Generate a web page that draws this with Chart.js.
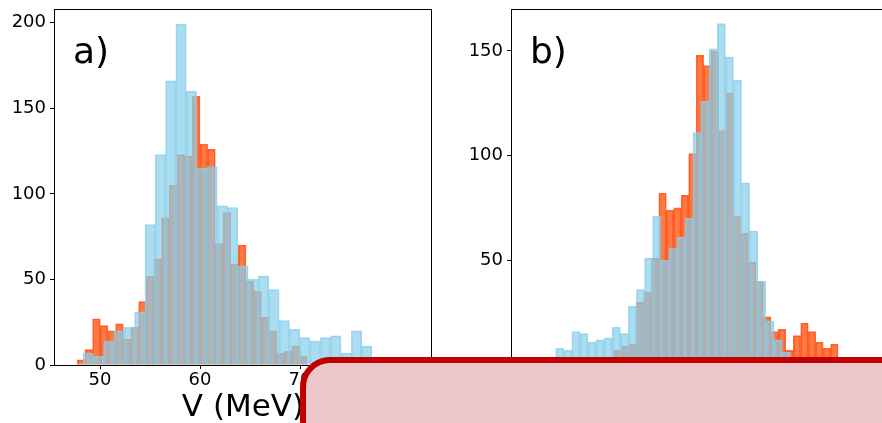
<!DOCTYPE html>
<html>
<head>
<meta charset="utf-8">
<script src="https://cdn.jsdelivr.net/npm/chart.js@4/dist/chart.umd.min.js"></script>
<style>
  html, body { margin: 0; padding: 0; background: #fff; }
  #stage { position: relative; width: 882px; height: 423px; overflow: hidden; background: #fff; }
  #cA { position: absolute; left: 0; top: 0; }
  #cB { position: absolute; left: 441px; top: 0; }
  #note {
    position: absolute; left: 300px; top: 357px; width: 640px; height: 130px;
    box-sizing: border-box; border: 6px solid #c00000; border-radius: 30px; background: #ecc8cc;
  }
</style>
</head>
<body>
<div id="stage">
  <canvas id="cA" width="441" height="423"></canvas>
  <canvas id="cB" width="460" height="423"></canvas>
  <div id="note"></div>
</div>
<script>
// ---- histogram data (counts per bin, bin range [lo, hi]) ----
const axisLabel = 'V (MeV)';
const vRange = [45.4, 83.2];
const xTickStep = 10;
const yTickStep = 50;

// panel a)
const aBlueRange = [48.3, 77.2];
const aBlueCounts = [7, 5, 14, 20, 22, 31, 82, 123, 166, 199, 160, 115, 116, 93,
                     92, 58, 50, 52, 44, 26, 21, 16, 14, 16, 17, 7, 20, 11];
const aOrangeRange = [47.73, 70.73];
const aOrangeCounts = [3, 9, 27, 23, 20, 24, 15, 22, 37, 52, 62, 86, 105, 123, 122,
                       157, 129, 126, 71, 89, 59, 70, 49, 43, 28, 20, 7, 8, 11, 5];
const aYMax = 208;

// panel b)
const bBlueRange = [49.87, 73.30];
const bBlueCounts = [8, 7, 16, 15, 11, 12, 13, 18, 15, 28, 36, 51, 71, 50, 56,
                     61, 70, 111, 126, 151, 163, 147, 136, 87, 64, 40, 21, 12, 6];
const bOrangeRange = [55.7, 78.11];
const bOrangeCounts = [7, 9, 10, 30, 35, 51, 82, 74, 75, 81, 101, 148, 143, 150, 112,
                       130, 71, 63, 49, 40, 23, 16, 17, 7, 14, 20, 16, 11, 8, 10];
const bYMax = 170;

// ---- styling ----
const FONT = "'DejaVu Sans', sans-serif";
const BLUE = 'rgba(135, 206, 235, 0.7)';
const BLUE_EDGE = 'rgba(135, 206, 235, 0.8)';
const ORANGE = 'rgba(255, 69, 0, 0.72)';
const ORANGE_EDGE = 'rgba(255, 69, 0, 0.78)';

function binPoints(range, counts) {
  const [lo, hi] = range;
  const w = (hi - lo) / counts.length;
  return counts.map((c, i) => ({ x: lo + (i + 0.5) * w, y: c }));
}

// axes box drawn above the bars, like matplotlib spines
const framePlugin = {
  id: 'frame',
  afterDatasetsDraw(chart) {
    const { ctx, chartArea: a } = chart;
    ctx.save();
    ctx.strokeStyle = '#000';
    ctx.lineWidth = 1;
    const l = Math.round(a.left) + 0.5, r = Math.round(a.right) - 0.5;
    const t = Math.round(a.top) + 0.5, b = Math.round(a.bottom) + 0.5;
    ctx.strokeRect(l, t, r - l, b - t);
    ctx.restore();
  }
};

// panel letter in the upper-left corner of the axes
const tagPlugin = {
  id: 'tag',
  afterDraw(chart, args, opts) {
    const { ctx, chartArea: a } = chart;
    ctx.save();
    ctx.font = `36px ${FONT}`;
    ctx.fillStyle = '#000';
    ctx.textBaseline = 'alphabetic';
    ctx.textAlign = 'left';
    ctx.fillText(opts.text, a.left + 0.05 * (a.right - a.left), a.top + 0.152 * (a.bottom - a.top));
    ctx.restore();
  }
};

function tickGrid() {
  return { display: true, offset: false, drawOnChartArea: false, drawTicks: true, tickLength: 4, color: '#000', lineWidth: 1 };
}

function histChart(canvasId, p) {
  const barCommon = { grouped: false, barPercentage: 1, categoryPercentage: 1, borderWidth: 1, borderSkipped: 'bottom' };
  return new Chart(document.getElementById(canvasId), {
    type: 'bar',
    data: {
      datasets: [
        Object.assign({ label: 'blue', data: binPoints(p.blueRange, p.blueCounts), xAxisID: 'x',
          backgroundColor: BLUE, borderColor: BLUE_EDGE }, barCommon),
        Object.assign({ label: 'orange', data: binPoints(p.orangeRange, p.orangeCounts), xAxisID: 'x2',
          backgroundColor: ORANGE, borderColor: ORANGE_EDGE }, barCommon)
      ]
    },
    options: {
      responsive: false,
      animation: false,
      devicePixelRatio: 1,
      layout: { padding: { top: 9, right: p.padRight, left: 0, bottom: 0 } },
      plugins: { legend: { display: false }, tooltip: { enabled: false }, tag: { text: p.tag } },
      scales: {
        x: {
          type: 'linear', position: 'bottom', offset: false, min: vRange[0], max: vRange[1],
          afterFit(s) { s.height = 58; s.paddingLeft = 0; s.paddingRight = 0; },
          ticks: { stepSize: xTickStep, includeBounds: false, color: '#000', padding: 1, maxRotation: 0,
                   autoSkip: false, font: { family: FONT, size: 18 } },
          grid: tickGrid(),
          border: { display: true, color: '#000', width: 1 },
          title: { display: true, text: axisLabel, color: '#000', padding: 0,
                   font: { family: FONT, size: 31, lineHeight: 1 } }
        },
        x2: { type: 'linear', display: false, offset: false, min: vRange[0], max: vRange[1] },
        y: {
          type: 'linear', min: 0, max: p.yMax,
          afterFit(s) { s.width = p.yAxisWidth; s.paddingTop = 0; s.paddingBottom = 0; },
          ticks: { stepSize: yTickStep, includeBounds: false, color: '#000', padding: 4,
                   font: { family: FONT, size: 18 } },
          grid: tickGrid(),
          border: { display: true, color: '#000', width: 1 }
        }
      }
    },
    plugins: [framePlugin, tagPlugin]
  });
}

histChart('cA', { tag: 'a)', blueRange: aBlueRange, blueCounts: aBlueCounts,
  orangeRange: aOrangeRange, orangeCounts: aOrangeCounts, yMax: aYMax, yAxisWidth: 54, padRight: 9 });
histChart('cB', { tag: 'b)', blueRange: bBlueRange, blueCounts: bBlueCounts,
  orangeRange: bOrangeRange, orangeCounts: bOrangeCounts, yMax: bYMax, yAxisWidth: 70, padRight: 12 });
</script>
</body>
</html>
